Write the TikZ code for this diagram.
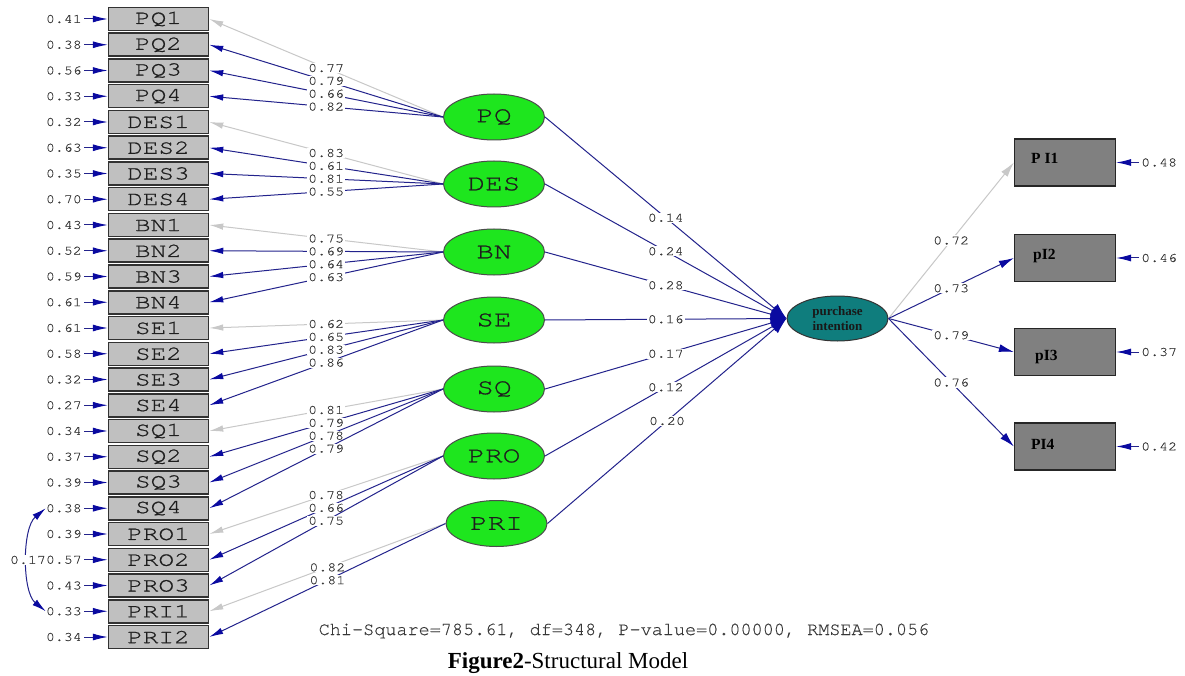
\documentclass[tikz,border=0pt]{standalone}
\usepackage{fontspec}
\setmainfont{Liberation Serif}
\newfontfamily\curw[FakeStretch=1.3,FakeBold=0.8]{TeX Gyre Cursor}
\newfontfamily\curn[FakeStretch=1.15,FakeBold=0.4]{TeX Gyre Cursor}
\newfontfamily\cur[FakeBold=0.4]{TeX Gyre Cursor}
\usetikzlibrary{arrows.meta,shapes.geometric}
\definecolor{boxfill}{RGB}{192,192,192}
\definecolor{boxedge}{RGB}{50,50,50}
\definecolor{boxtext}{RGB}{30,30,30}
\definecolor{latgreen}{RGB}{30,230,30}
\definecolor{piteal}{RGB}{15,125,125}
\definecolor{lnavy}{RGB}{35,35,140}
\definecolor{headblue}{RGB}{10,10,160}
\definecolor{lgray}{RGB}{200,200,200}
\definecolor{numtext}{RGB}{55,55,55}
\definecolor{rbox}{RGB}{128,128,128}
\begin{document}
\begin{tikzpicture}[x=1pt,y=-1pt,
  obs/.style={draw=boxedge, fill=boxfill, line width=1.5pt, minimum width=100pt, minimum height=23pt, inner sep=0pt, font=\curw\fontsize{20}{20}\selectfont, text=boxtext},
  lat/.style={ellipse, draw=black!70, fill=latgreen, line width=1pt, minimum width=101pt, minimum height=46pt, inner sep=0pt, font=\curw\fontsize{22.5}{22.5}\selectfont, text=boxtext},
  rob/.style={draw=black!85, fill=rbox, line width=1.2pt, minimum width=101pt, minimum height=47pt, inner sep=0pt},
  rlab/.style={anchor=base west, inner sep=0pt, font=\bfseries\fontsize{15.5}{15.5}\selectfont, text=black},
  num/.style={font=\curn\fontsize{13}{13}\selectfont, text=numtext, inner sep=0pt},
  lbl/.style={num, fill=white, inner sep=1pt},
  load/.style={draw=lnavy, line width=1pt, -{Latex[length=14pt,width=6.5pt,color=headblue]}},
  loadg/.style={draw=lgray, line width=1pt, -{Latex[length=14pt,width=6.5pt,color=lgray]}},
  err/.style={draw=lnavy, line width=1pt, shorten <=2pt, -{Latex[length=15pt,width=7pt,color=headblue]}},
  struct/.style={draw=lnavy, line width=1pt, -{Latex[length=16pt,width=11pt,color=headblue]}},
  rload/.style={draw=lnavy, line width=1pt, -{Latex[length=15pt,width=8pt,color=headblue]}},
  rloadg/.style={draw=lgray, line width=1pt, -{Latex[length=15pt,width=8pt,color=lgray]}},
  cov/.style={draw=lnavy, line width=1pt, {Latex[length=14pt,width=7pt,color=headblue]}-{Latex[length=14pt,width=7pt,color=headblue]}}
]
\useasboundingbox[fill=white] (0,0) rectangle (1185,676);

% observed indicators (left)
\foreach \n/\t/\e [count=\i from 0] in {pq1/PQ1/0.41, pq2/PQ2/0.38, pq3/PQ3/0.56, pq4/PQ4/0.33,
  des1/DES1/0.32, des2/DES2/0.63, des3/DES3/0.35, des4/DES4/0.70,
  bn1/BN1/0.43, bn2/BN2/0.52, bn3/BN3/0.59, bn4/BN4/0.61,
  se1/SE1/0.61, se2/SE2/0.58, se3/SE3/0.32, se4/SE4/0.27,
  sq1/SQ1/0.34, sq2/SQ2/0.37, sq3/SQ3/0.39, sq4/SQ4/0.38,
  pro1/PRO1/0.39, pro2/PRO2/0.57, pro3/PRO3/0.43, pri1/PRI1/0.33, pri2/PRI2/0.34} {
  \node[obs] (\n) at (158.5, 19+25.75*\i) {\t};
  \node[num, anchor=east] (e\n) at (82, 19+25.75*\i) {\e};
  \draw[err] (e\n.east) -- (\n.west);
}

% latent variables
\node[lat] (PQ)  at (494,117) {PQ};
\node[lat] (DES) at (494,184) {DES};
\node[lat] (BN)  at (494,252) {BN};
\node[lat] (SE)  at (494,320) {SE};
\node[lat] (SQ)  at (494,389) {SQ};
\node[lat] (PRO) at (494,456) {PRO};
\node[lat] (PRI) at (496.5,523.5) {PRI};
\node[ellipse, draw=black!80, fill=piteal, line width=1pt, minimum width=101pt, minimum height=45pt, inner sep=0pt,
  align=center, font=\bfseries\fontsize{13}{14.5}\selectfont, text=black!90] (PI) at (837.5,318.5) {purchase\\intention};

% loadings
\foreach \l/\n/\v/\s in {PQ/pq1/0.77/loadg, PQ/pq2/0.79/load, PQ/pq3/0.66/load, PQ/pq4/0.82/load,
  DES/des1/0.83/loadg, DES/des2/0.61/load, DES/des3/0.81/load, DES/des4/0.55/load,
  BN/bn1/0.75/loadg, BN/bn2/0.69/load, BN/bn3/0.64/load, BN/bn4/0.63/load,
  SE/se1/0.62/loadg, SE/se2/0.65/load, SE/se3/0.83/load, SE/se4/0.86/load,
  SQ/sq1/0.81/loadg, SQ/sq2/0.79/load, SQ/sq3/0.78/load, SQ/sq4/0.79/load,
  PRO/pro1/0.78/loadg, PRO/pro2/0.66/load, PRO/pro3/0.75/load,
  PRI/pri1/0.82/loadg, PRI/pri2/0.81/load} {
  \draw[\s] (\l.west) -- node[lbl] {\v} (\n.east);
}

% structural paths
\foreach \l/\v in {PQ/0.14, DES/0.24, BN/0.28, SE/0.16, SQ/0.17, PRO/0.12, PRI/0.20} {
  \draw[struct] (\l.east) -- node[lbl] {\v} (PI.west);
}

% right indicators
\node[rob] (pi1) at (1065,162.5) {};
\node[rob] (pi2) at (1065,258) {};
\node[rob] (pi3) at (1065,352) {};
\node[rob] (pi4) at (1065,446.5) {};
\node[rlab] (pi1t) at (1031,164) {P I1};
\node[rlab] (pi2t) at (1033,260) {pI2};
\node[rlab] (pi3t) at (1035,360) {pI3};
\node[rlab] (pi4t) at (1031,449) {PI4};

\draw[rloadg] (PI.east) -- node[lbl] {0.72} (pi1.west);
\draw[rload] (PI.east) -- node[lbl] {0.73} (pi2.west);
\draw[rload] (PI.east) -- node[lbl] {0.79} (pi3.west);
\draw[rload] (PI.east) -- node[lbl] {0.76} (pi4.west);

\node[num, anchor=west] (r1) at (1141,162.5) {0.48};
\node[num, anchor=west] (r2) at (1141,258) {0.46};
\node[num, anchor=west] (r3) at (1141,352) {0.37};
\node[num, anchor=west] (r4) at (1141,446.5) {0.42};
\draw[err] (r1.west) -- (pi1.east);
\draw[err] (r2.west) -- (pi2.east);
\draw[err] (r3.west) -- (pi3.east);
\draw[err] (r4.west) -- (pi4.east);

% error covariance
\draw[cov] (esq4.west) .. controls (22,528) and (22,592) .. node[lbl, inner sep=0.5pt] {0.17} (epri1.west);

% fit statistics and caption
\node[inner sep=0pt, font=\cur\fontsize{18.5}{18.5}\selectfont, text=numtext] (fit) at (624,631) {Chi-Square=785.61, df=348, P-value=0.00000, RMSEA=0.056};
\node[inner sep=0pt, font=\fontsize{23}{23}\selectfont, text=black] (cap) at (568,663) {\textbf{Figure2}-Structural Model};
\end{tikzpicture}
\end{document}
